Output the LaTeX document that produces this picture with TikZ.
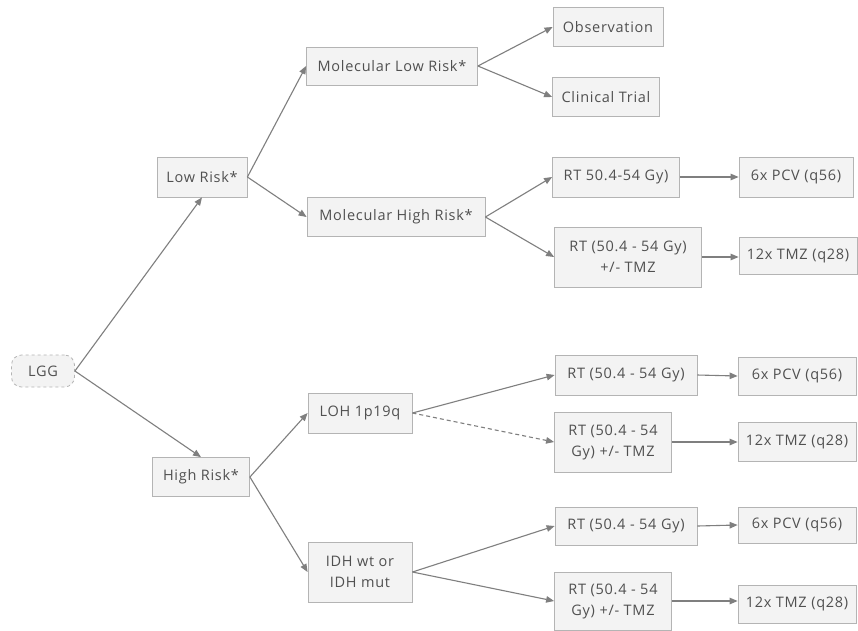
\documentclass[tikz,border=0pt]{standalone}
\usepackage{fontspec}
\setmainfont{Open Sans}[LetterSpace=5]
\usetikzlibrary{arrows.meta}
\definecolor{boxfill}{HTML}{F3F3F3}
\definecolor{boxline}{HTML}{B4B4B4}
\definecolor{txt}{HTML}{505050}
\definecolor{arr}{HTML}{7F7F7F}
\tikzset{
  box/.style={draw=boxline, fill=boxfill, line width=0.8pt, inner sep=0pt, align=center,
    text=txt, font=\fontsize{14.5}{21}\selectfont},
  conn/.style={draw=arr, line width=1.1pt, -{Triangle[length=8pt,width=6.5pt]}},
  dconn/.style={conn, dashed, dash pattern=on 4pt off 3pt},
}
\begin{document}
\begin{tikzpicture}[x=1pt,y=-1pt]
\useasboundingbox (0,0) rectangle (858,630);
\fill[white] (0,0) rectangle (858,630);
% nodes
\node[box, rounded corners=10pt, dashed, minimum width=63pt, minimum height=32pt] (lgg) at (43,371) {LGG};
\node[box, minimum width=90pt, minimum height=40pt] (low) at (202,177) {Low Risk*};
\node[box, minimum width=97pt, minimum height=39pt] (high) at (201,477) {High Risk*};
\node[box, minimum width=171pt, minimum height=38pt] (mlow) at (392,66) {Molecular Low Risk*};
\node[box, minimum width=178pt, minimum height=39pt] (mhigh) at (396,217) {Molecular High Risk*};
\node[box, minimum width=110pt, minimum height=39pt] (obs) at (608,27) {Observation};
\node[box, minimum width=107pt, minimum height=39pt] (ct) at (606,97) {Clinical Trial};
\node[box, minimum width=127pt, minimum height=40pt] (rt1) at (616,177) {RT 50.4-54 Gy)};
\node[box, minimum width=147pt, minimum height=60pt] (rt2) at (628,257) {RT (50.4 - 54 Gy)\\+/- TMZ};
\node[box, minimum width=114pt, minimum height=40pt] (pcv1) at (796,177) {6x PCV (q56)};
\node[box, minimum width=118pt, minimum height=37pt] (tmz1) at (798,256) {12x TMZ (q28)};
\node[box, minimum width=104pt, minimum height=40pt] (loh) at (360,413) {LOH 1p19q};
\node[box, minimum width=104pt, minimum height=60pt] (idh) at (360,572) {IDH wt or\\IDH mut};
\node[box, minimum width=142pt, minimum height=40pt] (rt3) at (626,375) {RT (50.4 - 54 Gy)};
\node[box, minimum width=117pt, minimum height=60pt] (rt4) at (613,442) {RT (50.4 - 54\\Gy) +/- TMZ};
\node[box, minimum width=118pt, minimum height=38pt] (pcv2) at (797,376) {6x PCV (q56)};
\node[box, minimum width=118pt, minimum height=39pt] (tmz2) at (797,442) {12x TMZ (q28)};
\node[box, minimum width=142pt, minimum height=38pt] (rt5) at (626,526) {RT (50.4 - 54 Gy)};
\node[box, minimum width=117pt, minimum height=58pt] (rt6) at (613,601) {RT (50.4 - 54\\Gy) +/- TMZ};
\node[box, minimum width=118pt, minimum height=36pt] (pcv3) at (797,525) {6x PCV (q56)};
\node[box, minimum width=118pt, minimum height=38pt] (tmz3) at (797,604) {12x TMZ (q28)};
% connectors
\draw[conn] (lgg.east) -- (low.south);
\draw[conn] (lgg.east) -- (high.north);
\draw[conn] (low.east) -- (mlow.west);
\draw[conn] (low.east) -- (mhigh.west);
\draw[conn] (mlow.east) -- (obs.west);
\draw[conn] (mlow.east) -- (ct.west);
\draw[conn] (mhigh.east) -- (rt1.west);
\draw[conn] (mhigh.east) -- (rt2.west);
\draw[conn] (rt1.east) -- (pcv1.west);
\draw[conn] (rt2.east) -- (rt2.east -| tmz1.west);
\draw[conn] (high.east) -- (loh.west);
\draw[conn] (high.east) -- (idh.west);
\draw[conn] (loh.east) -- (rt3.west);
\draw[dconn] (loh.east) -- (rt4.west);
\draw[conn] (idh.east) -- (rt5.west);
\draw[conn] (idh.east) -- (rt6.west);
\draw[conn] (rt3.east) -- (pcv2.west);
\draw[conn] (rt4.east) -- (tmz2.west);
\draw[conn] (rt5.east) -- (pcv3.west);
\draw[conn] (rt6.east) -- (rt6.east -| tmz3.west);
\end{tikzpicture}
\end{document}
